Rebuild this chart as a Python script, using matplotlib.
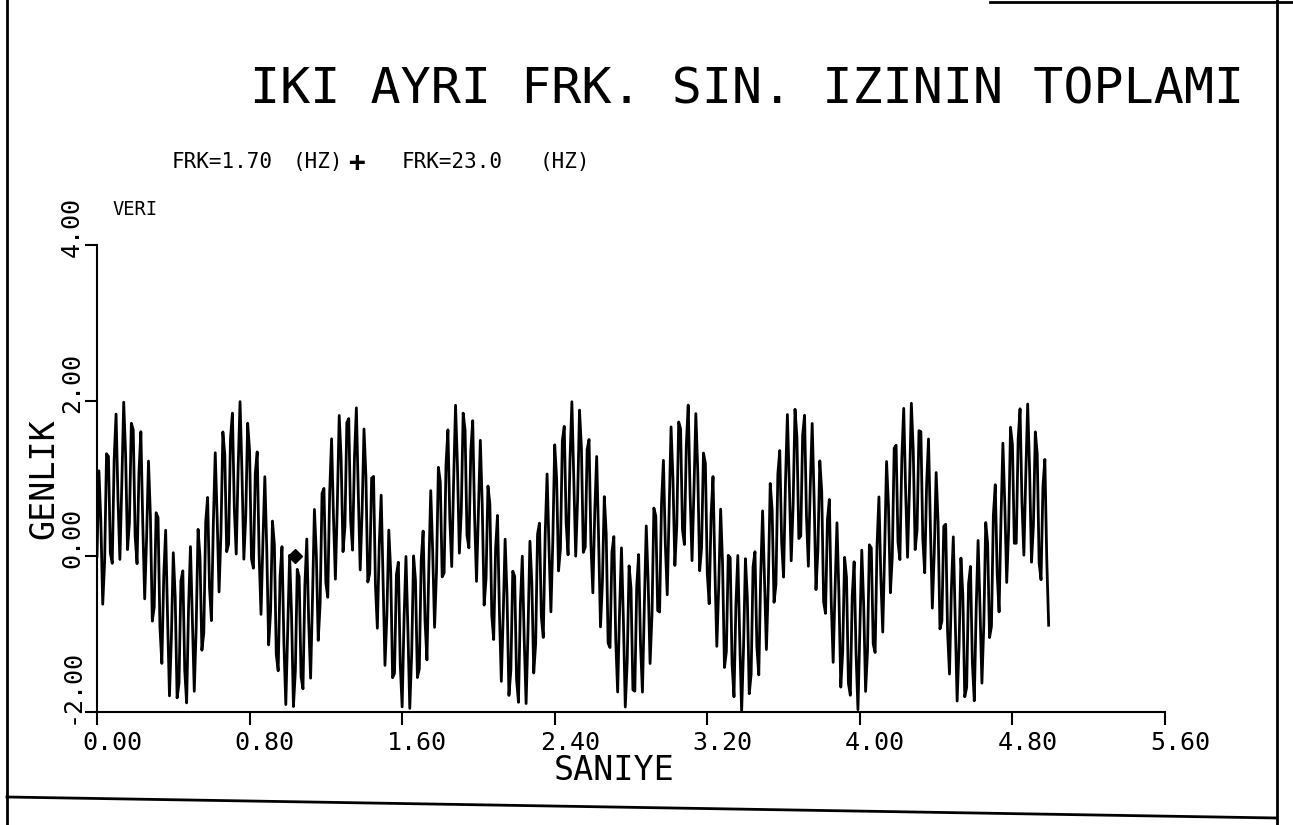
import numpy as np
import matplotlib.pyplot as plt
from matplotlib.lines import Line2D
from matplotlib.transforms import ScaledTranslation

# iki sinus bileseni: frekans (Hz) ve genlik
FREQS_HZ = [1.70, 23.0]
AMPLITUDES = [1.0, 1.0]
SAMPLE_DT = 0.01
N_SAMPLES = 500

# tek isaretli nokta
MARK_T = [1.04]
MARK_V = [0.0]

X_TICKS = [0.0, 0.8, 1.6, 2.4, 3.2, 4.0, 4.8, 5.6]
X_TICK_LABELS = ['0.00', '0.80', '1.60', '2.40', '3.20', '4.00', '4.80', '5.60']
Y_TICKS = [-2.0, 0.0, 2.0, 4.0]
Y_TICK_LABELS = ['-2.00', '0.00', '2.00', '4.00']

TITLE = 'IKI AYRI FRK. SIN. IZININ TOPLAMI'
SUB_PARTS = ['FRK=1.70', '(HZ)', 'FRK=23.0', '(HZ)']

W, H = 1293, 825
MONO = 'DejaVu Sans Mono'


def fx(px):
    return px / W


def fy(py):
    return 1 - py / H


def main():
    plt.rcParams['font.family'] = MONO
    fig = plt.figure(figsize=(W / 100, H / 100), dpi=100)
    ax = fig.add_axes([fx(97), fy(712), (1165 - 97) / W, (712 - 245) / H])

    t = np.arange(N_SAMPLES) * SAMPLE_DT
    signal = np.zeros_like(t)
    for f, a in zip(FREQS_HZ, AMPLITUDES):
        signal += a * np.sin(2 * np.pi * f * t)

    ax.plot(t, signal, color='black', lw=2.0)
    ax.plot(MARK_T, MARK_V, 'D', color='black', ms=7)

    ax.set_xlim(0, 5.6)
    ax.set_ylim(-2, 4)
    for s in ['top', 'right']:
        ax.spines[s].set_visible(False)
    for s in ['left', 'bottom']:
        ax.spines[s].set_linewidth(1.5)
    ax.tick_params(direction='out', length=9, width=1.5)
    ax.tick_params(axis='x', pad=5)
    ax.tick_params(axis='y', pad=9)

    ax.set_xticks(X_TICKS, X_TICK_LABELS, fontsize=18)
    ax.set_yticks(Y_TICKS, Y_TICK_LABELS, fontsize=18, rotation=90,
                  rotation_mode='anchor', ha='left', va='center')
    for lbl in ax.get_xticklabels():
        lbl.set_transform(lbl.get_transform() + ScaledTranslation(0.15, 0, fig.dpi_scale_trans))
    for lbl in ax.get_yticklabels():
        lbl.set_transform(lbl.get_transform() + ScaledTranslation(0, -0.12, fig.dpi_scale_trans))

    # eksen yazilari
    fig.text(fx(44), fy(479), 'GENLIK', rotation=90, fontsize=24, ha='center', va='center')
    fig.text(fx(614), fy(770), 'SANIYE', fontsize=24, ha='center', va='center')
    fig.text(fx(112), fy(209), 'VERI', fontsize=13.5, ha='left', va='center')

    # baslik ve alt baslik
    fig.text(fx(250), fy(90), TITLE, fontsize=36, ha='left', va='center')
    sub_x = [172, 293, 402, 540]
    for x, s in zip(sub_x, SUB_PARTS):
        fig.text(fx(x), fy(162), s, fontsize=15, ha='left', va='center')
    fig.text(fx(357), fy(163), '+', fontsize=20, fontweight='bold', ha='center', va='center')

    # cerceve
    frame = [
        ([7, 7], [0, 825]),
        ([1277, 1277], [0, 825]),
        ([7, 1277], [797, 818]),
        ([990, 1293], [2, 2]),
    ]
    for xs, ys in frame:
        fig.add_artist(Line2D([fx(v) for v in xs], [fy(v) for v in ys],
                              transform=fig.transFigure, color='black', lw=2))

    fig.savefig('out.png', dpi=100, facecolor='white')
    plt.close(fig)


if __name__ == '__main__':
    main()
